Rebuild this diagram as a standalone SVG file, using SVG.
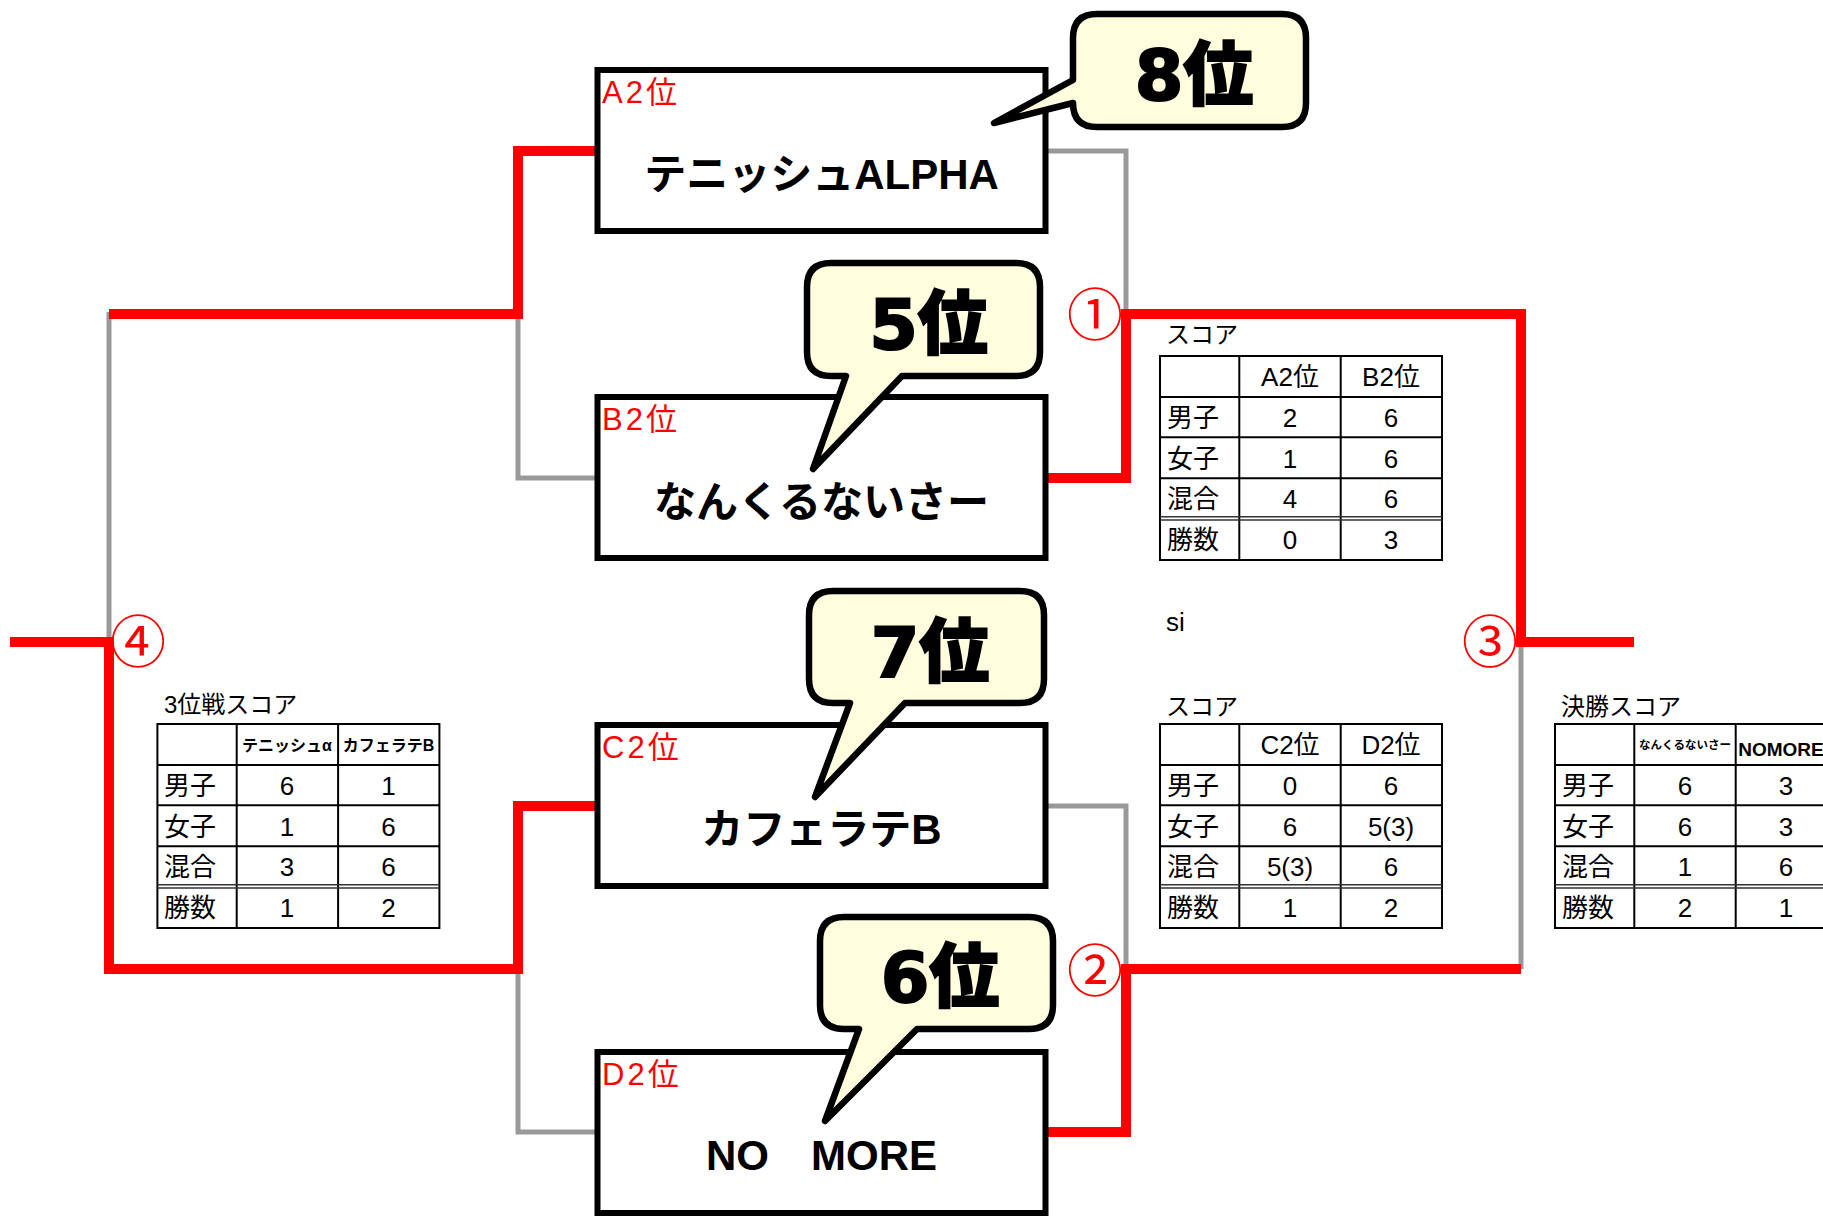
<svg xmlns="http://www.w3.org/2000/svg" xmlns:xlink="http://www.w3.org/1999/xlink" width="1823" height="1216" viewBox="0 0 1823 1216">
<style>
.red{fill:none;stroke:#FF0000;stroke-width:10;stroke-linejoin:miter}
.gray{fill:none;stroke:#999999;stroke-width:5;stroke-linejoin:miter}
.box{fill:#FFFFFF;stroke:#000000;stroke-width:6}
.lbl{font-family:"Liberation Sans","Noto Sans CJK JP",sans-serif;font-size:31px;fill:#FF0000;letter-spacing:3px}
.name{font-family:"Liberation Sans","Noto Sans CJK JP",sans-serif;font-size:42px;font-weight:bold;text-anchor:middle;fill:#000}
.bub{fill:#FFFDDD;stroke:#000000;stroke-width:6.5;stroke-linejoin:round}
.rank{font-family:"DejaVu Sans","Noto Sans CJK JP",sans-serif;font-size:70px;font-weight:900;text-anchor:middle;fill:#000;stroke:#000;stroke-width:2}
.circ{font-family:"Noto Sans CJK JP",sans-serif;font-size:56px;fill:#FF0000;text-anchor:middle}
.ttl{font-family:"Liberation Sans","Noto Sans CJK JP",sans-serif;font-size:24px;fill:#000}
.cell{font-family:"Liberation Sans","Noto Sans CJK JP",sans-serif;font-size:26px;fill:#000}
.mid{text-anchor:middle}
.hb{font-family:"Liberation Sans","Noto Sans CJK JP",sans-serif;font-weight:bold;text-anchor:middle;fill:#000}
.gl{stroke:#000;stroke-width:2;fill:none}
.gd{stroke:#333;stroke-width:1.5;fill:none}
</style>
<defs>
<g id="grid">
<rect class="gl" x="0" y="0" width="282" height="204" stroke-width="2.5"/>
<line class="gl" x1="79.3" y1="0" x2="79.3" y2="204"/>
<line class="gl" x1="180.7" y1="0" x2="180.7" y2="204"/>
<line class="gl" x1="0" y1="41" x2="282" y2="41"/>
<line class="gl" x1="0" y1="81.3" x2="282" y2="81.3"/>
<line class="gl" x1="0" y1="122.3" x2="282" y2="122.3"/>
<line class="gd" x1="0" y1="160.7" x2="282" y2="160.7"/>
<line class="gd" x1="0" y1="164" x2="282" y2="164"/>
</g>
</defs>
<rect width="1823" height="1216" fill="#FFFFFF"/>

<g id="connectors">
<path class="gray" d="M518,314 V478 H597"/>
<path class="gray" d="M109,312 V642"/>
<path class="gray" d="M518,969 V1132 H597"/>
<path class="gray" d="M1046,151 H1126 V314"/>
<path class="gray" d="M1521,642 V969"/>
<path class="gray" d="M1046,806 H1126 V969"/>
<path class="red" d="M597,151 H518 V314 H109"/>
<path class="red" d="M10,642 H109 V969 H518 V806 H597"/>
<path class="red" d="M1046,478 H1126 V314 H1521 V642 H1634"/>
<path class="red" d="M1046,1132 H1126 V969 H1521"/>
</g>

<g id="node-a2">
<rect class="box" x="597.5" y="70" width="448" height="161"/>
<text class="lbl" x="602" y="103">A2位</text>
<text class="name" x="821.5" y="189">テニッシュALPHA</text>
</g>
<g id="node-b2">
<rect class="box" x="597.5" y="397" width="448" height="161"/>
<text class="lbl" x="602" y="430">B2位</text>
<text class="name" x="821.5" y="517">なんくるないさー</text>
</g>
<g id="node-c2">
<rect class="box" x="597.5" y="725" width="448" height="161"/>
<text class="lbl" x="602" y="758">C2位</text>
<text class="name" x="821.5" y="844">カフェラテB</text>
</g>
<g id="node-d2">
<rect class="box" x="597.5" y="1052" width="448" height="161"/>
<text class="lbl" x="602" y="1085">D2位</text>
<text class="name" x="821.5" y="1170">NO　MORE</text>
</g>

<g id="bubble-8">
<path class="bub" d="M1097,14 H1282 Q1306,14 1306,38 V103 Q1306,127 1282,127 H1097 Q1073,127 1073,103 L994,123 L1073,80 V38 Q1073,14 1097,14 Z"/>
<text class="rank" x="1194" y="100">8位</text>
</g>
<g id="bubble-5">
<path class="bub" d="M831,263 H1016 Q1040,263 1040,287 V352 Q1040,376 1016,376 H902 L813,469 L846,376 H831 Q807,376 807,352 V287 Q807,263 831,263 Z"/>
<text class="rank" x="928.5" y="349">5位</text>
</g>
<g id="bubble-7">
<path class="bub" d="M833,591 H1020 Q1044,591 1044,615 V679 Q1044,703 1020,703 H905 L815,797 L850,703 H833 Q809,703 809,679 V615 Q809,591 833,591 Z"/>
<text class="rank" x="930" y="677">7位</text>
</g>
<g id="bubble-6">
<path class="bub" d="M844,917 H1029 Q1053,917 1053,941 V1005 Q1053,1029 1029,1029 H917 L825,1121 L859,1029 H844 Q820,1029 820,1005 V941 Q820,917 844,917 Z"/>
<text class="rank" x="940" y="1002">6位</text>
</g>

<g id="marks">
<text class="circ" x="1095" y="335">①</text>
<text class="circ" x="1095" y="991">②</text>
<text class="circ" x="1490" y="662">③</text>
<text class="circ" x="138" y="662">④</text>
</g>

<g id="table-ab">
<text class="ttl" x="1166" y="343">スコア</text>
<use xlink:href="#grid" x="1160" y="356"/>
<g class="cell">
<text x="1290" y="386" class="mid">A2位</text><text x="1391" y="386" class="mid">B2位</text>
<text x="1167" y="427">男子</text><text x="1290" y="427" class="mid">2</text><text x="1391" y="427" class="mid">6</text>
<text x="1167" y="468">女子</text><text x="1290" y="468" class="mid">1</text><text x="1391" y="468" class="mid">6</text>
<text x="1167" y="508">混合</text><text x="1290" y="508" class="mid">4</text><text x="1391" y="508" class="mid">6</text>
<text x="1167" y="549">勝数</text><text x="1290" y="549" class="mid">0</text><text x="1391" y="549" class="mid">3</text>
</g>
</g>

<text id="note-si" class="cell" x="1166" y="631" font-size="22">si</text>

<g id="table-cd">
<text class="ttl" x="1166" y="715">スコア</text>
<use xlink:href="#grid" x="1160" y="724"/>
<g class="cell">
<text x="1290" y="754" class="mid">C2位</text><text x="1391" y="754" class="mid">D2位</text>
<text x="1167" y="795">男子</text><text x="1290" y="795" class="mid">0</text><text x="1391" y="795" class="mid">6</text>
<text x="1167" y="836">女子</text><text x="1290" y="836" class="mid">6</text><text x="1391" y="836" class="mid">5(3)</text>
<text x="1167" y="876">混合</text><text x="1290" y="876" class="mid">5(3)</text><text x="1391" y="876" class="mid">6</text>
<text x="1167" y="917">勝数</text><text x="1290" y="917" class="mid">1</text><text x="1391" y="917" class="mid">2</text>
</g>
</g>

<g id="table-3rd">
<text class="ttl" x="164" y="713">3位戦スコア</text>
<use xlink:href="#grid" x="157.4" y="724"/>
<text class="hb" x="287" y="751" font-size="16">テニッシュα</text>
<text class="hb" x="388.5" y="751" font-size="16">カフェラテB</text>
<g class="cell">
<text x="164" y="795">男子</text><text x="287" y="795" class="mid">6</text><text x="388.5" y="795" class="mid">1</text>
<text x="164" y="836">女子</text><text x="287" y="836" class="mid">1</text><text x="388.5" y="836" class="mid">6</text>
<text x="164" y="876">混合</text><text x="287" y="876" class="mid">3</text><text x="388.5" y="876" class="mid">6</text>
<text x="164" y="917">勝数</text><text x="287" y="917" class="mid">1</text><text x="388.5" y="917" class="mid">2</text>
</g>
</g>

<g id="table-final">
<text class="ttl" x="1561" y="715">決勝スコア</text>
<use xlink:href="#grid" x="1555" y="724"/>
<text class="hb" x="1685" y="749" font-size="11.5">なんくるないさー</text>
<text class="hb" x="1781" y="756" font-size="19">NOMORE</text>
<g class="cell">
<text x="1562" y="795">男子</text><text x="1685" y="795" class="mid">6</text><text x="1786" y="795" class="mid">3</text>
<text x="1562" y="836">女子</text><text x="1685" y="836" class="mid">6</text><text x="1786" y="836" class="mid">3</text>
<text x="1562" y="876">混合</text><text x="1685" y="876" class="mid">1</text><text x="1786" y="876" class="mid">6</text>
<text x="1562" y="917">勝数</text><text x="1685" y="917" class="mid">2</text><text x="1786" y="917" class="mid">1</text>
</g>
</g>
</svg>
